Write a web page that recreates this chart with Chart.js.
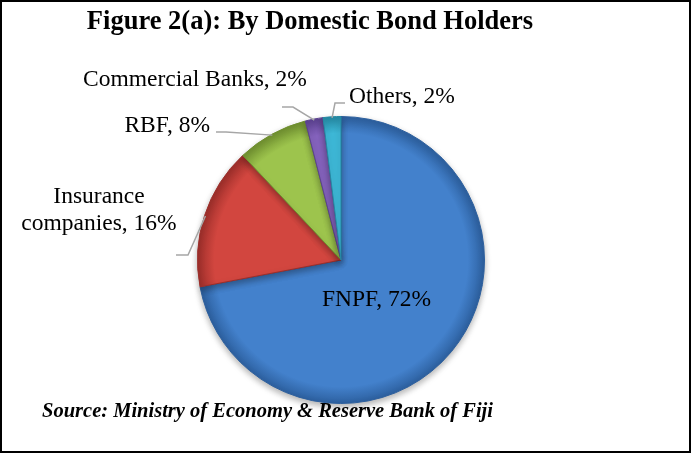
<!DOCTYPE html>
<html>
<head>
<meta charset="utf-8">
<script src="https://cdn.jsdelivr.net/npm/chart.js@4.4.0/dist/chart.umd.min.js"></script>
<style>
  html, body { margin: 0; padding: 0; background: #fff; }
  #wrap { width: 691px; height: 453px; }
</style>
</head>
<body>
<div id="wrap"><canvas id="myChart" width="691" height="453"></canvas></div>
<script>
'use strict';

const holderNames = ['FNPF', 'Insurance companies', 'RBF', 'Commercial Banks', 'Others'];
const holderShares = [72, 16, 8, 2, 2];
const sliceColors = ['#4381cc', '#d2463f', '#9dc44d', '#8462bc', '#3db7d6'];
const sliceEdges = ['#2c5f9e', '#9c2e2a', '#6f8f2f', '#5b4190', '#2489a3'];

const titleText = 'Figure 2(a): By Domestic Bond Holders';
const sourceText = 'Source: Ministry of Economy & Reserve Bank of Fiji';

// label text and where it sits; leader goes from anchor -> elbow -> rim of slice
const labelSpots = [
  { lines: ['FNPF, 72%'], x: 322, y: 306, align: 'left' },
  { lines: ['Insurance', 'companies, 16%'], x: 99, y: 203, align: 'center', anchor: [176, 255], elbow: [188, 255] },
  { lines: ['RBF, 8%'], x: 210, y: 132, align: 'right', anchor: [216, 132], elbow: [226, 132] },
  { lines: ['Commercial Banks, 2%'], x: 83, y: 86, align: 'left', anchor: [282, 107], elbow: [293, 107] },
  { lines: ['Others, 2%'], x: 349, y: 103, align: 'left', anchor: [345, 103], elbow: [335, 103] }
];

function bevelFill(context) {
  const i = context.dataIndex;
  const chart = context.chart;
  const area = chart.chartArea;
  if (!area) return sliceColors[i];
  const cx = (area.left + area.right) / 2;
  const cy = (area.top + area.bottom) / 2;
  const r = Math.min(area.right - area.left, area.bottom - area.top) / 2;
  const g = chart.ctx.createRadialGradient(cx, cy, 0, cx, cy, r);
  g.addColorStop(0, sliceColors[i]);
  g.addColorStop(0.88, sliceColors[i]);
  g.addColorStop(1, sliceEdges[i]);
  return g;
}

const shadowPlugin = {
  id: 'shadowPlugin',
  beforeDatasetsDraw(chart) {
    const ctx = chart.ctx;
    ctx.save();
    ctx.shadowColor = 'rgba(0,0,0,0.3)';
    ctx.shadowBlur = 6;
    ctx.shadowOffsetY = 3;
  },
  afterDatasetsDraw(chart) {
    chart.ctx.restore();
  }
};

const textPlugin = {
  id: 'textPlugin',
  afterDraw(chart) {
    const ctx = chart.ctx;
    const arcs = chart.getDatasetMeta(0).data;
    ctx.save();

    // frame
    ctx.strokeStyle = '#000';
    ctx.lineWidth = 2;
    ctx.strokeRect(1, 1, 689, 451);

    ctx.fillStyle = '#000';
    ctx.textBaseline = 'alphabetic';

    ctx.font = 'bold 26.5px "Liberation Serif", "Times New Roman", serif';
    ctx.textAlign = 'center';
    ctx.fillText(titleText, 310, 29);

    ctx.font = 'italic bold 20.5px "Liberation Serif", "Times New Roman", serif';
    ctx.textAlign = 'left';
    ctx.fillText(sourceText, 42, 417);

    ctx.font = '23.5px "Liberation Serif", "Times New Roman", serif';
    for (let i = 0; i < labelSpots.length; i++) {
      const spot = labelSpots[i];
      ctx.textAlign = spot.align;
      for (let k = 0; k < spot.lines.length; k++) {
        ctx.fillText(spot.lines[k], spot.x, spot.y + k * 27);
      }
      if (!spot.anchor) continue;
      const arc = arcs[i];
      const mid = (arc.startAngle + arc.endAngle) / 2;
      const rx = arc.x + Math.cos(mid) * (arc.outerRadius - 1);
      const ry = arc.y + Math.sin(mid) * (arc.outerRadius - 1);
      ctx.strokeStyle = '#a6a6a6';
      ctx.lineWidth = 1.5;
      ctx.beginPath();
      ctx.moveTo(spot.anchor[0], spot.anchor[1]);
      ctx.lineTo(spot.elbow[0], spot.elbow[1]);
      ctx.lineTo(rx, ry);
      ctx.stroke();
    }
    ctx.restore();
  }
};

const config = {
  type: 'pie',
  data: {
    labels: holderNames,
    datasets: [{
      data: holderShares,
      backgroundColor: bevelFill,
      borderColor: sliceEdges,
      borderWidth: 1
    }]
  },
  options: {
    responsive: false,
    animation: false,
    events: [],
    layout: { padding: { left: 197, right: 206, top: 116, bottom: 49 } },
    plugins: {
      legend: { display: false },
      title: { display: false },
      tooltip: { enabled: false }
    }
  },
  plugins: [shadowPlugin, textPlugin]
};

const canvasChart = document.getElementById('myChart');
const myChart = new Chart(canvasChart, config);
</script>
</body>
</html>
